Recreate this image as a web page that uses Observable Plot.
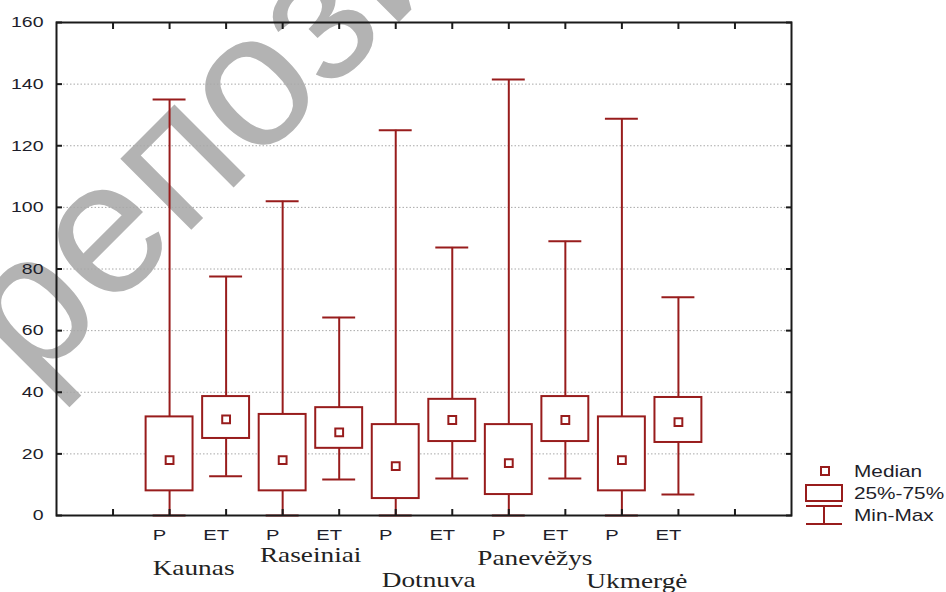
<!DOCTYPE html>
<html>
<head>
<meta charset="utf-8">
<script src="https://cdn.jsdelivr.net/npm/d3@7"></script>
<script src="https://cdn.jsdelivr.net/npm/@observablehq/plot@0.6"></script>
<style>
  html, body { margin: 0; padding: 0; background: #fff; overflow: hidden; }
  #chart { width: 946px; height: 592px; }
</style>
</head>
<body>
<div id="chart"></div>
<script>
// ---- data ----
const regions = ["Kaunas", "Raseiniai", "Dotnuva", "Panevėžys", "Ukmergė"];
const groups = ["P", "ET"];
const minV   = [0, 12.7, 0, 11.7, 0, 12, 0, 12, 0, 6.8];
const q1V    = [8, 25, 8, 21.8, 5.5, 24, 6.8, 24, 8, 23.7];
const medV   = [18, 31.2, 18, 27, 16, 31, 17, 31, 18, 30.3];
const q3V    = [32, 38.6, 32.8, 35, 29.5, 37.7, 29.5, 38.6, 32, 38.3];
const maxV   = [135, 77.6, 102, 64.3, 125, 87, 141.5, 89, 128.8, 70.8];
const yTicks = [0, 20, 40, 60, 80, 100, 120, 140, 160];
const gridVals = [20, 40, 60, 80, 100, 120, 140];
const legendLabels = ["Median", "25%-75%", "Min-Max"];
const watermark = "репозиторий";

// ---- layout (not data) ----
const regionDx = [24, 28, 33, 26, 15];
const regionDy = [59, 46, 71, 49, 72];
const RED = "#981c1c";
const STRETCH = 1.3;

const keys = regions.flatMap(r => groups.map(g => r + "|" + g));
const domain = ["·L", ...keys, "·R"];
const rows = keys.map((k, i) => ({key: k, min: minV[i], q1: q1V[i], med: medV[i], q3: q3V[i], max: maxV[i]}));
const tickLabel = d => d.includes("|") ? d.split("|")[1] : "";

const svg = Plot.plot({
  width: 946,
  height: 592,
  marginLeft: 56,
  marginRight: 155,
  marginTop: 22,
  marginBottom: 77,
  style: {fontFamily: "'Liberation Sans', Arial, sans-serif", fontSize: "15px", background: "white", color: "#222"},
  x: {type: "band", domain, paddingInner: 0.17, paddingOuter: 0.585, round: false, axis: null},
  y: {domain: [0, 160], axis: null},
  marks: [
    Plot.text([watermark], {text: d => d, frameAnchor: "top-left", dx: -24, dy: 366, rotate: -45,
      textAnchor: "start", lineAnchor: "bottom", fontSize: 190, fill: "#b3b3b3",
      fontFamily: "'Liberation Sans', Arial, sans-serif"}),
    Plot.ruleY(gridVals, {stroke: "#a8a8a8", strokeWidth: 1, strokeDasharray: "1.5,2"}),
    Plot.ruleX(rows, {x: "key", y1: "min", y2: "q1", stroke: RED, strokeWidth: 2}),
    Plot.ruleX(rows, {x: "key", y1: "q3", y2: "max", stroke: RED, strokeWidth: 2}),
    Plot.tickY(rows, {x: "key", y: "max", stroke: RED, strokeWidth: 2, insetLeft: 7, insetRight: 7}),
    Plot.tickY(rows, {x: "key", y: "min", stroke: RED, strokeWidth: 2, insetLeft: 7, insetRight: 7}),
    Plot.barY(rows, {x: "key", y1: "q1", y2: "q3", fill: "white", stroke: RED, strokeWidth: 2}),
    Plot.dot(rows, {x: "key", y: "med", symbol: "square", r: 4.4, fill: "none", stroke: RED, strokeWidth: 2}),
    Plot.frame({stroke: "#1a1a1a", strokeWidth: 2}),
    // inward ticks on all four sides
    Plot.axisY(yTicks, {anchor: "left", label: null, tickSize: 6, dx: 6, tickFormat: () => "", stroke: "#1a1a1a", strokeWidth: 2}),
    Plot.axisY(yTicks, {anchor: "right", label: null, tickSize: 6, dx: -6, tickFormat: () => "", stroke: "#1a1a1a", strokeWidth: 2}),
    Plot.axisX(domain, {anchor: "top", label: null, tickSize: 6, dy: 6, tickFormat: () => "", stroke: "#1a1a1a", strokeWidth: 2}),
    Plot.axisX(domain, {anchor: "bottom", label: null, tickSize: 6, dy: -6, tickFormat: () => "", stroke: "#1a1a1a", strokeWidth: 2}),
    // labels
    Plot.axisY(yTicks, {anchor: "left", label: null, tickSize: 0, tickPadding: 13, fontSize: 15, fill: "#1e1e2a"}),
    Plot.axisX(domain, {anchor: "bottom", label: null, tickSize: 0, tickPadding: 13, dx: -10, tickFormat: tickLabel, fontSize: 15.5, fill: "#1e1e2a"}),
    ...regions.map((r, i) => Plot.text([r], {x: d => d + "|P", text: d => d, frameAnchor: "bottom",
      dx: regionDx[i], dy: regionDy[i], lineAnchor: "bottom", fontSize: 21, fill: "#222",
      fontFamily: "'Liberation Serif', 'Times New Roman', serif"}))
  ]
});

// ---- legend (right of the frame) ----
const g = d3.select(svg).append("g").attr("fill", "none").attr("stroke", RED).attr("stroke-width", 2);
g.append("rect").attr("x", 821).attr("y", 467).attr("width", 8).attr("height", 8);
g.append("rect").attr("x", 806).attr("y", 485).attr("width", 36).attr("height", 16);
g.append("line").attr("x1", 806).attr("x2", 842).attr("y1", 506).attr("y2", 506);
g.append("line").attr("x1", 824).attr("x2", 824).attr("y1", 506).attr("y2", 524);
g.append("line").attr("x1", 806).attr("x2", 842).attr("y1", 524).attr("y2", 524);
const legY = [471, 493, 515];
const lt = d3.select(svg).append("g")
  .attr("font-family", "'Liberation Sans', Arial, sans-serif").attr("font-size", 16)
  .attr("fill", "#1e1e2a").attr("text-anchor", "start");
legendLabels.forEach((t, i) => {
  lt.append("text").attr("transform", `translate(854,${legY[i]})`).attr("dy", "0.35em").text(t);
});

// stretch text horizontally like the reference image
svg.querySelectorAll("text").forEach(t => {
  if (t.textContent === watermark) return;
  const tr = t.getAttribute("transform");
  if (tr) t.setAttribute("transform", tr + ` scale(${STRETCH},1)`);
});

document.getElementById("chart").appendChild(svg);
</script>
</body>
</html>
